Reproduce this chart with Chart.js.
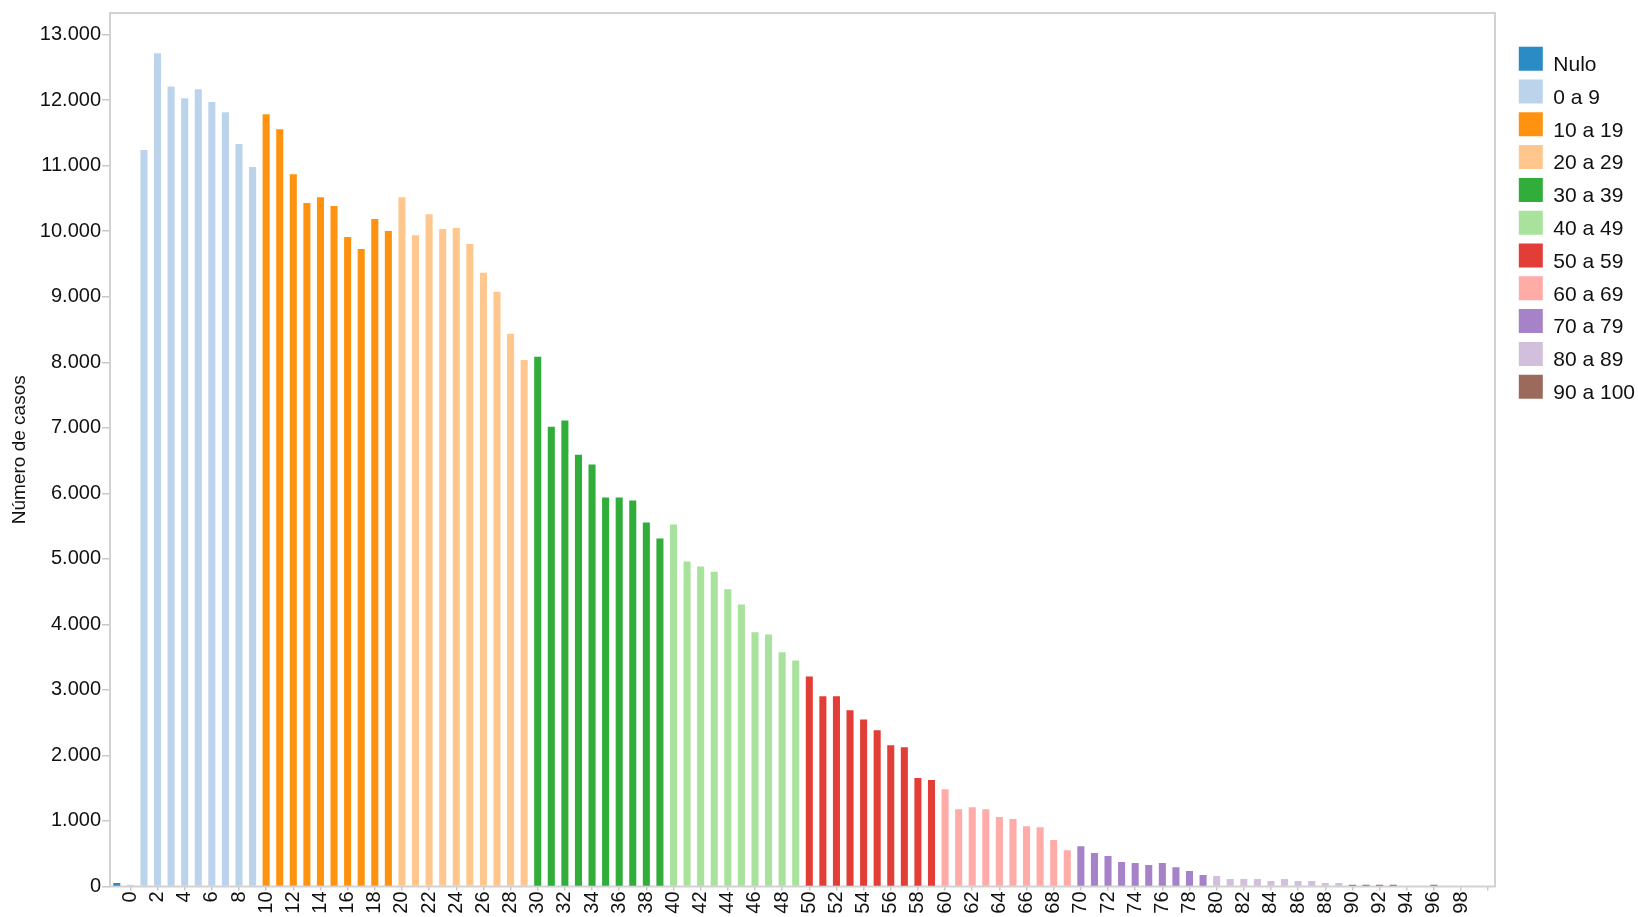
<!DOCTYPE html>
<html lang="es">
<head>
<meta charset="utf-8">
<title>Número de casos por edad</title>
<script src="https://cdn.jsdelivr.net/npm/chart.js@4.4.1/dist/chart.umd.min.js"></script>
<style>
  html, body { margin: 0; padding: 0; background: #fff; }
  #wrap { width: 1638px; height: 917px; position: relative; }
</style>
</head>
<body>
<div id="wrap"><canvas id="chartEdad"></canvas></div>
<script>
// ══════════════════════════════════════
// DATOS
// ══════════════════════════════════════

// Categorías: "Nulo" + edades 0..100
const EDADES = ['Nulo',
  '0','1','2','3','4','5','6','7','8','9',
  '10','11','12','13','14','15','16','17','18','19',
  '20','21','22','23','24','25','26','27','28','29',
  '30','31','32','33','34','35','36','37','38','39',
  '40','41','42','43','44','45','46','47','48','49',
  '50','51','52','53','54','55','56','57','58','59',
  '60','61','62','63','64','65','66','67','68','69',
  '70','71','72','73','74','75','76','77','78','79',
  '80','81','82','83','84','85','86','87','88','89',
  '90','91','92','93','94','95','96','97','98','99','100'];

// Número de casos por edad (mismo orden que EDADES)
const CASOS = [55,
  25, 11240, 12715, 12210, 12030, 12165, 11970, 11815, 11330, 10980,
  11785, 11555, 10870, 10430, 10520, 10385, 9910, 9730, 10185, 10005,
  10520, 9940, 10260, 10035, 10050, 9805, 9365, 9075, 8435, 8035,
  8085, 7015, 7110, 6590, 6440, 5935, 5935, 5890, 5555, 5310,
  5525, 4960, 4885, 4805, 4535, 4305, 3880, 3845, 3575, 3450,
  3205, 2905, 2905, 2690, 2550, 2385, 2155, 2125, 1655, 1625,
  1485, 1180, 1210, 1180, 1060, 1030, 920, 905, 710, 555,
  615, 510, 465, 375, 360, 330, 360, 295, 235, 175,
  160, 115, 115, 115, 85, 115, 85, 85, 55, 55,
  25, 25, 25, 25, 0, 0, 25, 0, 0, 0, 0];

// Grupos de edad (leyenda)
const GRUPOS = ['Nulo', '0 a 9', '10 a 19', '20 a 29', '30 a 39', '40 a 49',
                '50 a 59', '60 a 69', '70 a 79', '80 a 89', '90 a 100'];

const COLORES = ['#2a8bc5', '#bcd3ec', '#ff930f', '#ffc78d', '#31ad3a', '#a8e29c',
                 '#e23e37', '#ffaba8', '#a682c8', '#d1bfdc', '#9c6a5d'];

// Ticks
const Y_TICKS = [0, 1000, 2000, 3000, 4000, 5000, 6000, 7000, 8000, 9000, 10000, 11000, 12000, 13000];
const Y_MAX = 13330;
const X_TICK_LABELS = ['0','2','4','6','8','10','12','14','16','18','20','22','24','26','28',
  '30','32','34','36','38','40','42','44','46','48','50','52','54','56','58',
  '60','62','64','66','68','70','72','74','76','78','80','82','84','86','88',
  '90','92','94','96','98'];
const X_TICK_SIN_LABEL = ['100'];

// ══════════════════════════════════════

const LEG_FONT = 21;
const LEG_BOX = 24;

function grupoDe(edad) {
  if (edad === 'Nulo') return 0;
  return Math.min(10, Math.floor(Number(edad) / 10)) + 1;
}

function fmtMiles(v) {
  return String(v).replace(/\B(?=(\d{3})+(?!\d))/g, '.');
}

// marco gris alrededor del área del gráfico
const framePlugin = {
  id: 'frame',
  beforeDatasetsDraw(chart) {
    const { ctx, chartArea: a } = chart;
    ctx.save();
    ctx.strokeStyle = '#d2d2d2';
    ctx.lineWidth = 2;
    ctx.strokeRect(a.left, a.top, a.right - a.left, a.bottom - a.top);
    ctx.restore();
  }
};

// texto de la leyenda algo más abajo que el centro del cuadro (como en el original)
const legendTextPlugin = {
  id: 'legendText',
  afterDraw(chart) {
    const lg = chart.legend;
    if (!lg || !lg.legendHitBoxes) return;
    const ctx = chart.ctx;
    ctx.save();
    ctx.font = LEG_FONT + "px 'Liberation Sans', Arial, sans-serif";
    ctx.fillStyle = '#111';
    ctx.textAlign = 'left';
    ctx.textBaseline = 'middle';
    lg.legendItems.forEach((it, i) => {
      const hb = lg.legendHitBoxes[i];
      ctx.fillText(it.text, hb.left + LEG_BOX + LEG_FONT / 2, hb.top + LEG_BOX / 2 + 6.5);
    });
    ctx.restore();
  }
};

Chart.defaults.font.family = "'Liberation Sans', Arial, sans-serif";
Chart.defaults.color = '#111';

const datasets = GRUPOS.map((g, gi) => ({
  label: g,
  data: CASOS.map((v, i) => grupoDe(EDADES[i]) === gi ? v : null),
  backgroundColor: COLORES[gi],
  borderColor: COLORES[gi],
  borderWidth: 0,
  grouped: false,
  barPercentage: 0.52,
  categoryPercentage: 1,
}));

new Chart(document.getElementById('chartEdad'), {
  type: 'bar',
  data: { labels: EDADES, datasets },
  plugins: [framePlugin, legendTextPlugin],
  options: {
    responsive: true,
    maintainAspectRatio: false,
    animation: false,
    layout: { padding: { top: 11.7, right: 0, bottom: 0, left: 0 } },
    plugins: {
      legend: {
        position: 'right',
        align: 'start',
        maxWidth: 128,
        title: { display: true, text: '', font: { size: 10 }, padding: { top: 14.2, bottom: 0 } },
        labels: { boxWidth: LEG_BOX, boxHeight: LEG_BOX, padding: 8.8, color: 'rgba(0,0,0,0)', font: { size: LEG_FONT } },
      },
      tooltip: { callbacks: { label: c => c.dataset.label + ': ' + fmtMiles(c.parsed.y) } },
    },
    scales: {
      x: {
        offset: true,
        grid: { offset: false, drawOnChartArea: false, drawTicks: true, tickLength: 4, color: '#c8c8c8', lineWidth: 1.5 },
        border: { display: false },
        afterBuildTicks: s => {
          s.ticks = s.ticks.filter(t => X_TICK_LABELS.includes(EDADES[t.value]) || X_TICK_SIN_LABEL.includes(EDADES[t.value]));
        },
        afterFit: s => { s.height = 30.5; },
        ticks: {
          autoSkip: false,
          minRotation: 90,
          maxRotation: 90,
          padding: 1,
          color: '#111',
          font: { size: 20 },
          callback: function (v) {
            const l = EDADES[v];
            return X_TICK_LABELS.includes(l) ? l : '';
          },
        },
      },
      y: {
        min: 0,
        max: Y_MAX,
        grid: { drawOnChartArea: false, drawTicks: true, tickLength: 8, color: '#c8c8c8', lineWidth: 1.5 },
        border: { display: false },
        afterBuildTicks: s => { s.ticks = Y_TICKS.map(v => ({ value: v })); },
        afterFit: s => { s.width = 110; },
        title: { display: true, text: 'Número de casos', color: '#111', font: { size: 19 }, padding: { top: 8.3, bottom: 0 } },
        ticks: { padding: 1, color: '#111', font: { size: 20 }, callback: v => fmtMiles(v) },
      },
      // separador entre el área del gráfico y la leyenda
      spacer: {
        type: 'linear',
        position: 'right',
        display: true,
        grid: { display: false },
        border: { display: false },
        ticks: { display: false },
        afterFit: s => { s.width = 15; },
      },
    },
  },
});
</script>
</body>
</html>
